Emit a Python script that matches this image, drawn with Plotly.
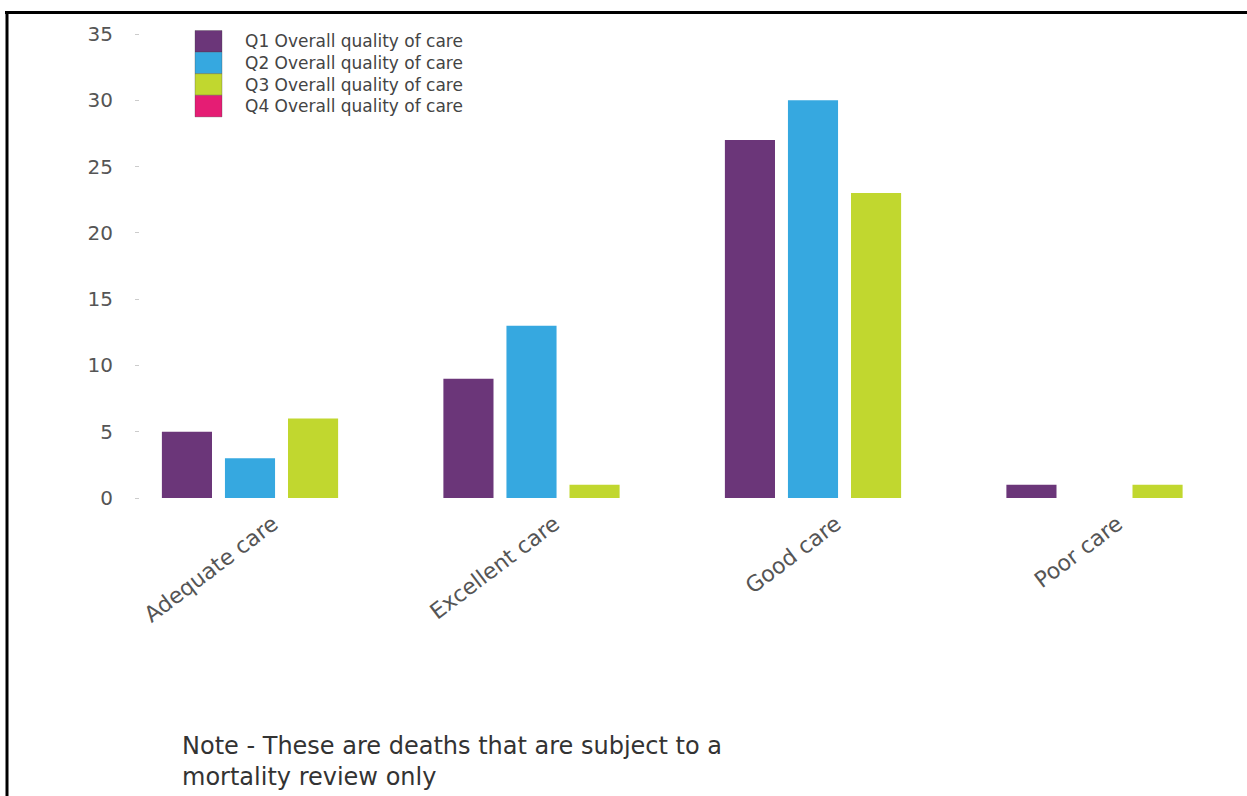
import plotly.graph_objects as go

# Categories and quarterly counts
categories = ["Adequate care", "Excellent care", "Good care", "Poor care"]
series_names = [
    "Q1 Overall quality of care",
    "Q2 Overall quality of care",
    "Q3 Overall quality of care",
    "Q4 Overall quality of care",
]
q1_values = [5, 9, 27, 1]
q2_values = [3, 13, 30, None]
q3_values = [6, 1, 23, 1]
q4_values = [None, None, None, None]
y_ticks = [0, 5, 10, 15, 20, 25, 30, 35]

colors = ["#6b3679", "#36a8e0", "#c1d72f", "#e51d74"]
series_values = [q1_values, q2_values, q3_values, q4_values]

W, H = 1247, 796
ML, MR, MT, MB = 140, 7, 34, 298
PW, PH = W - ML - MR, H - MT - MB

bar_width = 0.178
bar_pitch = 0.224
offsets = [-bar_pitch - bar_width / 2, -bar_width / 2, bar_pitch - bar_width / 2, 2 * bar_pitch - bar_width / 2]

fig = go.Figure()
for name, vals, col, off in zip(series_names, series_values, colors, offsets):
    fig.add_trace(go.Bar(
        x=categories, y=vals, name=name,
        marker=dict(color=col, line=dict(width=0)),
        width=bar_width, offset=off, showlegend=False,
    ))


def px_x(px):
    return (px - ML) / PW


def px_y(py):
    return (H - MB - py) / PH


shapes = []
annotations = []

# Legend: stacked colour swatches with labels
row_h = 21.6
top = 30.5
for i, (name, col) in enumerate(zip(series_names, colors)):
    y0 = top + i * row_h
    y1 = y0 + row_h
    shapes.append(dict(
        type="rect", xref="paper", yref="paper",
        x0=px_x(195), x1=px_x(222), y0=px_y(y1), y1=px_y(y0),
        fillcolor=col, line=dict(width=0.6, color="rgba(60,60,60,0.5)"),
    ))
    annotations.append(dict(
        xref="paper", yref="paper", x=px_x(243), y=px_y((y0 + y1) / 2),
        xanchor="left", yanchor="middle", showarrow=False, text=name,
        font=dict(family="DejaVu Sans", size=17, color="#444444"),
    ))

# Frame lines along the top and left edge
shapes.append(dict(type="line", xref="paper", yref="paper",
                   x0=px_x(5), x1=px_x(1247), y0=px_y(12.5), y1=px_y(12.5),
                   line=dict(color="black", width=3)))
shapes.append(dict(type="line", xref="paper", yref="paper",
                   x0=px_x(7), x1=px_x(7), y0=px_y(11), y1=px_y(796),
                   line=dict(color="black", width=3)))

# Footnote
annotations.append(dict(
    xref="paper", yref="paper", x=px_x(180), y=px_y(730),
    xanchor="left", yanchor="top", align="left", showarrow=False,
    text="Note - These are deaths that are subject to a<br>mortality review only",
    font=dict(family="DejaVu Sans", size=24, color="#333333"),
))

r0 = -(250 - ML) / 281.5
r1 = r0 + PW / 281.5

fig.update_layout(
    width=W, height=H,
    margin=dict(l=ML, r=MR, t=MT, b=MB, pad=0),
    paper_bgcolor="white", plot_bgcolor="white",
    barmode="group",
    shapes=shapes, annotations=annotations,
    showlegend=False,
    xaxis=dict(
        type="category", range=[r0, r1], showgrid=False, zeroline=False,
        showline=False, ticks="", tickangle=-37,
        ticklabelstandoff=8, ticklabelshift=23,
        tickfont=dict(family="DejaVu Sans", size=22, color="#555555"),
    ),
    yaxis=dict(
        range=[0, 35], tickvals=y_ticks, showgrid=False, zeroline=False,
        showline=False, ticks="outside", ticklen=4, tickcolor="#cccccc",
        tickwidth=1, ticklabelstandoff=18,
        tickfont=dict(family="DejaVu Sans", size=20, color="#555555"),
    ),
)

fig.write_html("out.html")
